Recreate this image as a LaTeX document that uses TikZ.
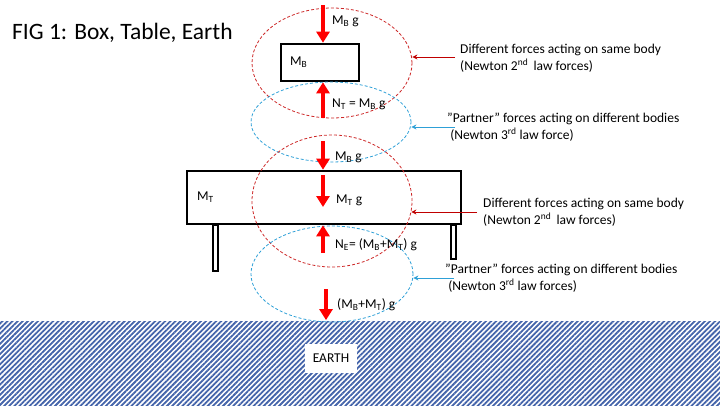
\documentclass[tikz,border=0pt]{standalone}
\usepackage{fontspec}
\setmainfont{Carlito}
\usetikzlibrary{shapes.geometric,arrows.meta,patterns.meta}
\definecolor{forcered}{RGB}{255,0,0}
\definecolor{ringred}{RGB}{205,40,40}
\definecolor{notered}{RGB}{192,0,0}
\definecolor{ringblue}{RGB}{46,160,215}
\definecolor{earthblue}{RGB}{68,100,170}
\tikzset{
  ring/.style={ellipse, draw, dash pattern=on 3pt off 2pt, line width=0.8pt, inner sep=0pt},
  body/.style={rectangle, draw=black, line width=2.6pt, fill=white, inner sep=0pt},
  leg/.style={rectangle, draw=black, line width=2pt, fill=white, minimum width=5pt, inner sep=0pt},
  force/.style={draw=forcered, line width=4.5pt, -{Triangle[length=11pt,width=13pt]}},
  lbl/.style={anchor=west, inner sep=0pt, font=\fontsize{13.5}{15}\selectfont},
  note/.style={anchor=west, align=left, inner sep=0pt, font=\fontsize{13.5}{17}\selectfont},
  pointer/.style={-{Stealth[length=5pt,width=5pt]}, line width=0.8pt},
}
\begin{document}
\begin{tikzpicture}[x=1pt, y=-1pt]
  \useasboundingbox (0,0) rectangle (720,405);
  % ground
  \node [rectangle, inner sep=0pt, minimum width=720pt, minimum height=84pt,
    pattern={Lines[angle=45, distance=3.6pt, line width=1.8pt]}, pattern color=earthblue] (earth) at (360,363) {};
  \node [fill=white, inner sep=0pt, minimum width=52pt, minimum height=29pt, font=\fontsize{13.5}{15}\selectfont] (earthlbl) at (331,358) {EARTH};
  % title
  \node [anchor=west, inner sep=0pt, font=\fontsize{23.5}{26}\selectfont] (title) at (12,33) {FIG 1: Box, Table, Earth};
  % bodies
  \node [body, minimum width=78pt, minimum height=37pt] (boxB) at (320,62.5) {};
  \node [lbl] (mB) at (290,62) {M\textsubscript{B}};
  \node [leg, minimum height=46pt, anchor=north] (legL) at (215.5,224) {};
  \node [leg, minimum height=34pt, anchor=north] (legR) at (453,224) {};
  \node [body, minimum width=274pt, minimum height=53pt] (table) at (324,197.5) {};
  \node [lbl] (mT) at (197,197) {M\textsubscript{T}};
  % dashed rings
  \node [ring, draw=ringred, minimum width=160pt, minimum height=110pt] (ring1) at (332,63) {};
  \node [ring, draw=ringblue, minimum width=160pt, minimum height=80pt] (ring2) at (331,122) {};
  \node [ring, draw=ringred, minimum width=160pt, minimum height=132pt] (ring3) at (332,201) {};
  \node [ring, draw=ringblue, minimum width=162pt, minimum height=96pt] (ring4) at (332,274) {};
  % forces
  \coordinate (f1) at (323,5);
  \coordinate (f2) at (323,118);
  \coordinate (f3) at (323,141);
  \coordinate (f4) at (323,175);
  \coordinate (f5) at (323,253);
  \coordinate (f6) at (326,289);
  \draw [force] (f1) -- (f1 |- boxB.north);
  \draw [force] (f2) -- (f2 |- boxB.south);
  \draw [force] (f3) -- (f3 |- table.north);
  \draw [force] (f4) -- ++(0,32);
  \draw [force] (f5) -- (f5 |- table.south);
  \draw [force] (f6) -- (f6 |- earth.north);
  \node [lbl] (l1) at (332,21) {M\textsubscript{B} g};
  \node [lbl] (l2) at (332,104) {N\textsubscript{T} = M\textsubscript{B} g};
  \node [lbl] (l3) at (335,157) {M\textsubscript{B} g};
  \node [lbl] (l4) at (336,200) {M\textsubscript{T} g};
  \node [lbl] (l5) at (335,245) {N\textsubscript{E}= (M\textsubscript{B}+M\textsubscript{T}) g};
  \node [lbl] (l6) at (337,305) {(M\textsubscript{B}+M\textsubscript{T}) g};
  % notes
  \node [note] (n1) at (460,58) {Different forces acting on same body\\(Newton 2\textsuperscript{nd}\, law forces)};
  \node [note] (n2) at (447,127.5) {”Partner” forces acting on different bodies\\\ (Newton 3\textsuperscript{rd} law force)};
  \node [note] (n3) at (483,212.5) {Different forces acting on same body\\(Newton 2\textsuperscript{nd}\, law forces)};
  \node [note] (n4) at (445,278.5) {”Partner” forces acting on different bodies\\\ (Newton 3\textsuperscript{rd} law forces)};
  \coordinate (p1) at (455,57);
  \coordinate (p2) at (455,127);
  \coordinate (p3) at (477,212);
  \coordinate (p4) at (454,278);
  \draw [pointer, notered] (p1) -- (ring1.east |- p1);
  \draw [pointer, ringblue] (p2) -- (ring2.east |- p2);
  \draw [pointer, notered] (p3) -- ([xshift=-1pt]ring3.east |- p3);
  \draw [pointer, ringblue] (p4) -- (ring4.east |- p4);
\end{tikzpicture}
\end{document}
